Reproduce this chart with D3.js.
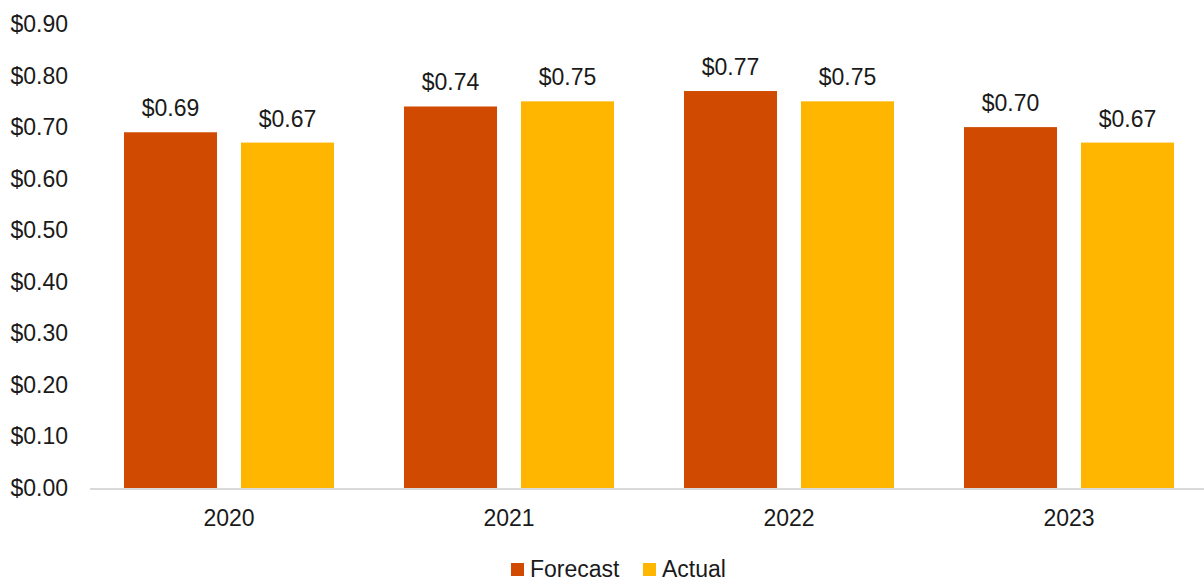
<!DOCTYPE html>
<html lang="en">
<head>
<meta charset="UTF-8">
<title>Forecast vs Actual</title>
<script src="https://d3js.org/d3.v7.min.js"></script>
<style>
  body { margin: 0; background: #fff; }
  text { font-family: "Liberation Sans", Arial, sans-serif; fill: #1a1a1a; }
</style>
</head>
<body>
<svg width="1204" height="581"></svg>
<script>
const years = ["2020", "2021", "2022", "2023"]
const seriesNames = ["Forecast", "Actual"]
const forecast = [0.69, 0.74, 0.77, 0.70]
const actual = [0.67, 0.75, 0.75, 0.67]
const yTicks = [0, 0.1, 0.2, 0.3, 0.4, 0.5, 0.6, 0.7, 0.8, 0.9]
const colors = ["#D04A02", "#FFB600"]

const svg = d3.select("svg")
const fontSize = 23

let x0 = d3.scaleBand().domain(years).range([89, 1209]).padding(0)
let x1 = d3.scaleBand().domain(seriesNames).range([0, x0.bandwidth()])
          .paddingInner(0.205).paddingOuter(0.299)
let y = d3.scaleLinear().domain([0, 0.9]).range([488, 24])
let color = d3.scaleOrdinal().domain(seriesNames).range(colors)
const fmt = d => "$" + d3.format(".2f")(d)

// y axis labels (no line)
svg.append("g").selectAll("text")
  .data(yTicks).enter().append("text")
  .attr("x", 68).attr("y", d => y(d))
  .attr("dy", "0.35em")
  .attr("text-anchor", "end")
  .style("font-size", fontSize + "px")
  .text(fmt)

const rows = years.map((yr, i) => ({year: yr, values: [
  {key: "Forecast", value: forecast[i]},
  {key: "Actual", value: actual[i]}
]}))

let groups = svg.selectAll(".year").data(rows).enter()
  .append("g").attr("class", "year")
  .attr("transform", d => `translate(${x0(d.year)},0)`)

groups.selectAll("rect").data(d => d.values).enter()
  .append("rect")
  .attr("x", d => x1(d.key))
  .attr("width", x1.bandwidth())
  .attr("y", d => y(d.value))
  .attr("height", d => y(0) - y(d.value))
  .attr("fill", d => color(d.key))

groups.selectAll(".lbl").data(d => d.values).enter()
  .append("text").attr("class", "lbl")
  .attr("x", d => x1(d.key) + x1.bandwidth() / 2)
  .attr("y", d => y(d.value) - 16)
  .attr("text-anchor", "middle")
  .style("font-size", fontSize + "px")
  .text(d => fmt(d.value))

// x axis line
svg.append("line")
  .attr("x1", 90).attr("x2", 1204)
  .attr("y1", y(0) + 1).attr("y2", y(0) + 1)
  .attr("stroke", "#d9d9d9").attr("stroke-width", 2)

svg.append("g").selectAll("text")
  .data(years).enter().append("text")
  .attr("x", d => x0(d) + x0.bandwidth() / 2)
  .attr("y", 526)
  .attr("text-anchor", "middle")
  .style("font-size", fontSize + "px")
  .text(d => d)

// legend
const legendX = [511, 643]
let legend = svg.append("g").selectAll("g")
  .data(seriesNames).enter().append("g")
  .attr("transform", (d, i) => `translate(${legendX[i]},0)`)
legend.append("rect")
  .attr("x", 0).attr("y", 563).attr("width", 13).attr("height", 13)
  .attr("fill", d => color(d))
legend.append("text")
  .attr("x", 19).attr("y", 577)
  .style("font-size", fontSize + "px")
  .text(d => d)
</script>
</body>
</html>
